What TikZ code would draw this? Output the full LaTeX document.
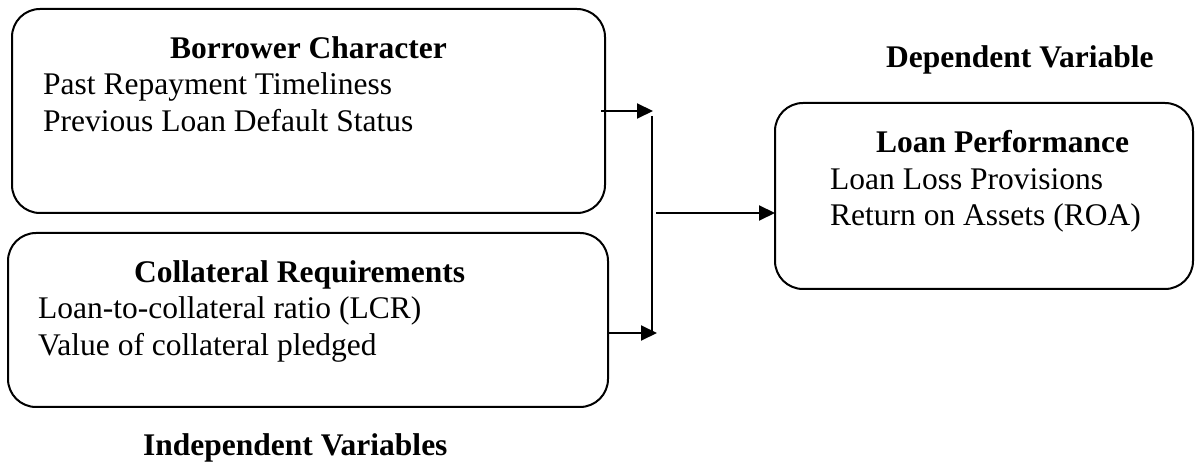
\documentclass[tikz,border=0pt]{standalone}
\usepackage{fontspec}
\setmainfont{Liberation Serif}
\usetikzlibrary{arrows.meta}
\tikzset{
  varbox/.style={draw, line width=2pt, rounded corners=28pt, inner sep=0pt, outer sep=0pt},
  txt/.style={anchor=base west, inner sep=0pt, font=\fontsize{31.5}{36}\selectfont},
  ttl/.style={anchor=base west, inner sep=0pt, font=\fontsize{31.5}{36}\selectfont\bfseries},
  conn/.style={line width=2pt},
  arr/.style={line width=2pt, -{Triangle[length=16pt,width=15pt]}}
}
\begin{document}
\begin{tikzpicture}[x=1pt,y=-1pt]
\useasboundingbox (0,0) rectangle (1195,462);
% boxes
\node[varbox, minimum width=593pt, minimum height=204pt] (b1) at (308.5,111) {};
\node[varbox, minimum width=600pt, minimum height=174pt] (b2) at (308,320) {};
\node[varbox, minimum width=418pt, minimum height=186pt] (b3) at (984,196) {};
% texts
\node[ttl] (t1) at (170,59) {Borrower Character};
\node[txt] (t1a) at (43,95) {Past Repayment Timeliness};
\node[txt] (t1b) at (43,132) {Previous Loan Default Status};
\node[ttl] (t2) at (134,283) {Collateral Requirements};
\node[txt] (t2a) at (38,319) {Loan-to-collateral ratio (LCR)};
\node[txt] (t2b) at (38,356) {Value of collateral pledged};
\node[ttl] (t3) at (876,153) {Loan Performance};
\node[txt] (t3a) at (830,190) {Loan Loss Provisions};
\node[txt] (t3b) at (830,226) {Return on Assets (ROA)};
\node[ttl] (dv) at (886,68) {Dependent Variable};
\node[ttl] (iv) at (143,455) {Independent Variables};
% connectors
\coordinate (j1) at (653,111);
\coordinate (j2) at (657,333);
\coordinate (v1) at (652,116);
\coordinate (v2) at (652,333);
\coordinate (m) at (656,213);
\draw[arr] ([xshift=-4pt]b1.east) -- (j1);
\draw[arr] (b2.east |- j2) -- (j2);
\draw[conn] (v1) -- (v2);
\draw[arr] (m) -- (m -| b3.west);
\end{tikzpicture}
\end{document}
